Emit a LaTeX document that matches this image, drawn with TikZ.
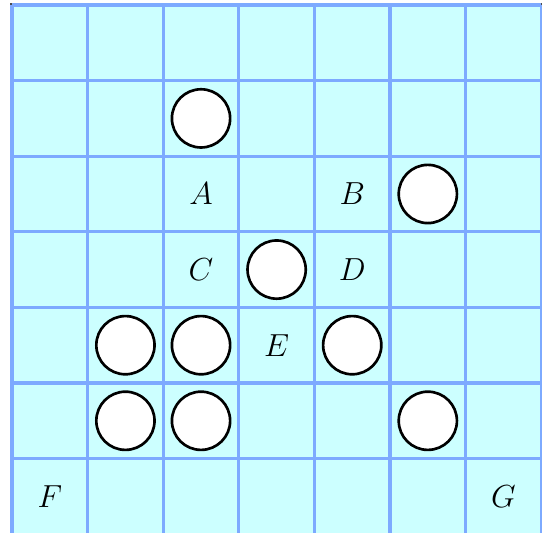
\documentclass[tikz,border=0pt]{standalone}
\usepackage{xcolor}
\usepackage{tikz}
\usepackage{amsmath}
\definecolor{boardfill}{RGB}{204,255,255}
\definecolor{boardline}{RGB}{125,170,255}

\begin{document}
\begin{tikzpicture}[
    x=1cm, y=1cm,
    board/.style={fill=boardfill, draw=black!70, line width=1.2pt},
    gridline/.style={draw=boardline, line width=1.2pt},
    stone/.style={circle, draw, fill=white, line width=1pt, minimum size=0.77cm, inner sep=0pt},
    cellmark/.style={font=\fontsize{12.5}{14}\selectfont}
]
\useasboundingbox (-0.159,0.016) rectangle (7.01,7.066);
\fill[board] (0,0) rectangle (7,7);
\draw[black!70, line width=1.2pt] (0,-0.1) -- (0,7) -- (7,7) -- (7,-0.1);
\draw[gridline] (0,-0.1) grid (7,7);

\node[stone] (s1) at (2.5,5.5) {};
\node[stone] (s2) at (5.5,4.5) {};
\node[stone] (s3) at (3.5,3.5) {};
\node[stone] (s4) at (1.5,2.5) {};
\node[stone] (s5) at (2.5,2.5) {};
\node[stone] (s6) at (4.5,2.5) {};
\node[stone] (s7) at (1.5,1.5) {};
\node[stone] (s8) at (2.5,1.5) {};
\node[stone] (s9) at (5.5,1.5) {};

\node[cellmark] (A) at (2.5,4.5) {$A$};
\node[cellmark] (B) at (4.5,4.5) {$B$};
\node[cellmark] (C) at (2.5,3.5) {$C$};
\node[cellmark] (D) at (4.5,3.5) {$D$};
\node[cellmark] (E) at (3.5,2.5) {$E$};
\node[cellmark] (F) at (0.5,0.5) {$F$};
\node[cellmark] (G) at (6.5,0.5) {$G$};
\end{tikzpicture}
\end{document}
